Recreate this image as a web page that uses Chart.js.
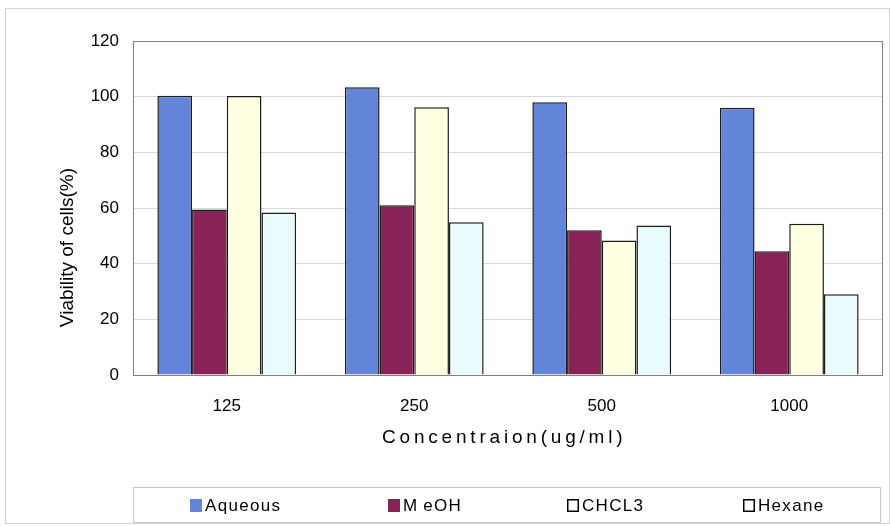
<!DOCTYPE html>
<html>
<head>
<meta charset="utf-8">
<script src="https://cdn.jsdelivr.net/npm/chart.js@4/dist/chart.umd.min.js"></script>
<style>
  html, body { margin: 0; padding: 0; background: #fff; }
  #wrap { width: 890px; height: 526px; }
</style>
</head>
<body>
<div id="wrap"><canvas id="myChart" width="890" height="526"></canvas></div>
<script>
const concentrations = ['125', '250', '500', '1000'];
const aqueous = [100.3, 103.4, 98, 96];
const meoh = [59.5, 61, 52, 44.5];
const chcl3 = [100.2, 96.2, 48.3, 54.3];
const hexane = [58.4, 54.9, 53.7, 29];
const yTicks = [0, 20, 40, 60, 80, 100, 120];

const FONT = '"Liberation Sans", Arial, sans-serif';

// spread letters like the original axis title
const spaced = (s) => s.split('').join('\u2009');

const frame = {
  id: 'frame',
  beforeDraw(chart) {
    const ctx = chart.ctx;
    ctx.save();
    ctx.strokeStyle = '#d4d4d4';
    ctx.lineWidth = 1;
    ctx.strokeRect(5.5, 8.5, 884, 515);
    ctx.restore();
  },
  afterDraw(chart) {
    const ctx = chart.ctx;
    const a = chart.chartArea;
    ctx.save();
    // plot border
    ctx.strokeStyle = '#808080';
    ctx.lineWidth = 1;
    ctx.strokeRect(a.left + 0.5, a.top + 0.5, a.right - a.left - 1, a.bottom - a.top);

    // legend box
    ctx.strokeStyle = '#c8c8c8';
    ctx.strokeRect(133.5, 487.5, 747, 35);
    const starts = [190, 388, 567, 743];
    ctx.font = '17px ' + FONT;
    ctx.letterSpacing = '1.3px';
    ctx.textBaseline = 'middle';
    chart.data.datasets.forEach((ds, i) => {
      const x = starts[i];
      const y = 499;
      ctx.fillStyle = ds.backgroundColor;
      ctx.fillRect(x, y, 12, 13);
      if (i >= 2) {
        ctx.fillStyle = '#fff';
        ctx.fillRect(x, y, 12, 13);
        ctx.strokeStyle = '#000';
        ctx.lineWidth = 1.5;
        ctx.strokeRect(x + 0.75, y + 0.75, 10.5, 11.5);
      }
      ctx.fillStyle = '#000';
      ctx.textAlign = 'left';
      ctx.fillText(i === 1 ? 'M\u2009eOH' : ds.label, x + 15, y + 7);
    });
    ctx.restore();
  }
};

const datasets = [
  { label: 'Aqueous', data: aqueous, backgroundColor: '#6385d9' },
  { label: 'MeOH', data: meoh, backgroundColor: '#892357' },
  { label: 'CHCL3', data: chcl3, backgroundColor: '#ffffe2' },
  { label: 'Hexane', data: hexane, backgroundColor: '#e9fbfd' }
].map((d) => ({
  ...d,
  borderColor: '#1c1c1c',
  borderWidth: 1.5,
  barPercentage: 1,
  categoryPercentage: 0.74
}));

const config = {
  type: 'bar',
  data: { labels: concentrations, datasets },
  plugins: [frame],
  options: {
    responsive: false,
    animation: false,
    layout: { padding: { left: 0, right: 7, top: 41, bottom: 0 } },
    plugins: {
      legend: { display: false },
      tooltip: { enabled: false }
    },
    scales: {
      x: {
        grid: { display: false, drawTicks: false },
        border: { display: false },
        ticks: { color: '#000', font: { family: FONT, size: 17 }, padding: 21 },
        title: {
          display: true,
          text: spaced('Concentraion(ug/ml)') + '\u2009\u2009\u2009',
          color: '#000',
          font: { family: FONT, size: 19 },
          padding: { top: 0, bottom: 77 }
        },
        afterFit(scale) { scale.height = 151; }
      },
      y: {
        min: 0,
        max: 120,
        afterBuildTicks(scale) { scale.ticks = yTicks.map((v) => ({ value: v })); },
        grid: { color: '#d9d9d9', drawTicks: false },
        border: { display: false },
        ticks: { color: '#000', font: { family: FONT, size: 17 }, padding: 14 },
        title: {
          display: true,
          text: 'Viability of cells(%)' + '\u00a0'.repeat(15),
          color: '#000',
          font: { family: FONT, size: 19 },
          padding: { top: 56, bottom: 0 }
        },
        afterFit(scale) { scale.width = 133; }
      }
    }
  }
};

window.chart = new Chart(document.getElementById('myChart'), config);
</script>
</body>
</html>
